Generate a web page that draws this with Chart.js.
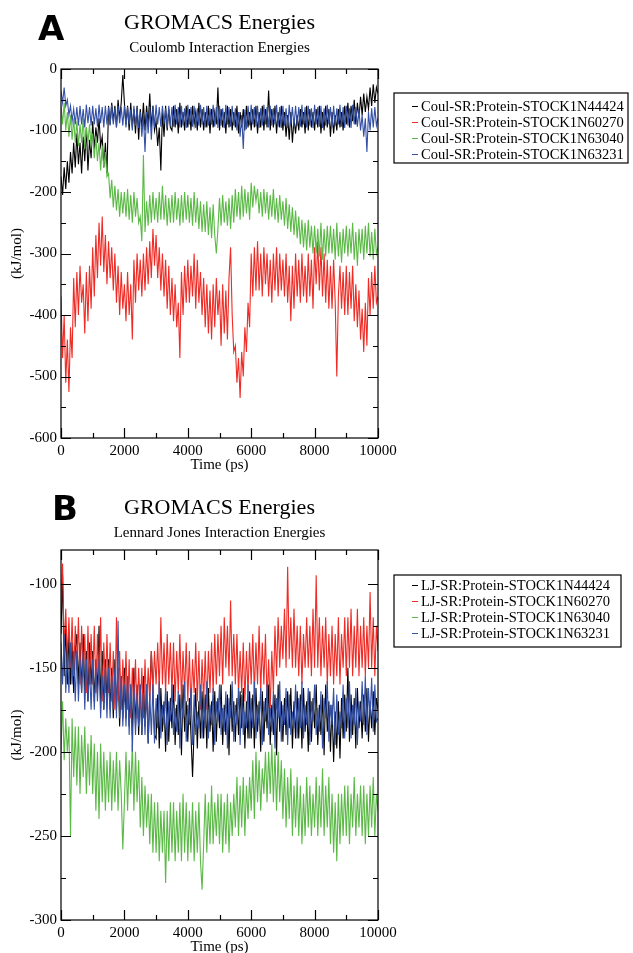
<!DOCTYPE html>
<html>
<head>
<meta charset="utf-8">
<script src="https://cdn.jsdelivr.net/npm/chart.js@4.4.1/dist/chart.umd.min.js"></script>
<style>
  html, body { margin: 0; padding: 0; background: #fff; overflow: hidden; }
  .panel { position: absolute; left: 0; width: 633px; height: 476px; }
</style>
</head>
<body>
<div class="panel" style="top:0"><canvas id="coulChart" width="633" height="476"></canvas></div>
<div class="panel" style="top:482px"><canvas id="ljChart" width="633" height="476"></canvas></div>
<script>
// sampled every 50 ps, 0..10000 ps
const STEP_PS = 50;

const seriesColors = ['#000000', '#ee2b24', '#5bb946', '#3451a6'];

const coulLabels = [
  'Coul-SR:Protein-STOCK1N44424',
  'Coul-SR:Protein-STOCK1N60270',
  'Coul-SR:Protein-STOCK1N63040',
  'Coul-SR:Protein-STOCK1N63231'
];
const ljLabels = [
  'LJ-SR:Protein-STOCK1N44424',
  'LJ-SR:Protein-STOCK1N60270',
  'LJ-SR:Protein-STOCK1N63040',
  'LJ-SR:Protein-STOCK1N63231'
];

const coul44424 = [
  -175,-205,-160,-195,-150,-185,-135,-170,-120,-160,
  -105,-155,-120,-170,-110,-150,-95,-165,-115,-145,
  -85,-130,-95,-120,-80,-125,-110,-160,-120,-170,
  -60,-90,-55,-85,-60,-95,-50,-80,-55,-10,
  -55,-90,-60,-100,-55,-95,-65,-105,-60,-115,
  -65,-95,-55,-100,-60,-90,-40,-95,-60,-100,
  -85,-125,-95,-165,-70,-110,-60,-100,-65,-95,
  -100,-60,-95,-65,-105,-55,-95,-70,-100,-60,
  -95,-65,-100,-60,-90,-70,-100,-55,-95,-65,
  -100,-70,-95,-60,-105,-65,-95,-70,-90,-30,
  -100,-65,-95,-70,-105,-60,-95,-65,-100,-70,
  -95,-60,-105,-70,-95,-65,-100,-60,-95,-70,
  -100,-65,-95,-60,-105,-70,-95,-60,-100,-65,
  -95,-35,-100,-65,-95,-60,-105,-70,-95,-60,
  -100,-70,-110,-75,-115,-70,-120,-80,-105,-75,
  -100,-65,-95,-70,-105,-60,-100,-65,-95,-70,
  -100,-65,-95,-60,-105,-70,-100,-60,-95,-65,
  -110,-70,-105,-75,-100,-65,-95,-70,-100,-60,
  -90,-55,-95,-60,-85,-50,-90,-55,-80,-45,
  -75,-40,-70,-45,-65,-30,-60,-25,-55,-30,
  -40
];
const coul60270 = [
  -370,-470,-400,-510,-440,-525,-420,-470,-340,-420,
  -330,-400,-320,-380,-350,-430,-330,-410,-320,-390,
  -290,-370,-270,-340,-250,-320,-240,-330,-270,-350,
  -280,-340,-290,-360,-300,-380,-320,-400,-330,-390,
  -350,-410,-330,-400,-350,-440,-310,-380,-300,-360,
  -310,-370,-300,-360,-290,-350,-280,-340,-260,-320,
  -270,-340,-290,-360,-300,-370,-310,-390,-320,-400,
  -340,-410,-350,-420,-380,-470,-330,-400,-320,-380,
  -310,-380,-320,-370,-300,-390,-310,-380,-330,-400,
  -340,-420,-350,-430,-360,-440,-350,-420,-340,-400,
  -360,-450,-350,-430,-360,-440,-340,-290,-400,-460,
  -450,-510,-470,-535,-460,-500,-420,-460,-380,-420,
  -300,-370,-290,-360,-280,-360,-300,-370,-290,-350,
  -300,-370,-310,-380,-300,-360,-290,-370,-300,-360,
  -310,-370,-300,-380,-320,-410,-320,-390,-300,-370,
  -310,-380,-300,-370,-320,-380,-300,-370,-310,-390,
  -290,-350,-280,-360,-290,-370,-300,-380,-310,-390,
  -320,-390,-310,-380,-500,-370,-320,-390,-330,-400,
  -320,-400,-330,-390,-320,-410,-350,-420,-360,-440,
  -390,-460,-380,-450,-340,-400,-330,-390,-320,-380,
  -370
];
const coul63040 = [
  -60,-90,-55,-100,-70,-110,-75,-115,-80,-120,
  -85,-125,-90,-120,-80,-130,-95,-120,-90,-125,
  -105,-145,-110,-150,-120,-165,-125,-160,-135,-175,
  -170,-210,-180,-225,-190,-230,-195,-240,-200,-235,
  -200,-240,-195,-245,-205,-250,-200,-240,-210,-250,
  -240,-280,-140,-265,-215,-255,-205,-250,-200,-245,
  -210,-250,-200,-245,-190,-245,-205,-255,-210,-250,
  -205,-250,-200,-245,-210,-255,-205,-250,-200,-245,
  -205,-250,-210,-255,-200,-250,-210,-260,-215,-265,
  -220,-265,-215,-270,-225,-275,-220,-270,-300,-260,
  -210,-255,-205,-250,-215,-255,-210,-260,-205,-250,
  -195,-240,-200,-245,-190,-240,-195,-235,-200,-245,
  -185,-225,-190,-215,-195,-235,-200,-240,-195,-235,
  -200,-245,-205,-240,-195,-245,-210,-250,-205,-245,
  -215,-255,-210,-260,-220,-265,-225,-270,-230,-275,
  -240,-285,-245,-290,-250,-295,-245,-290,-255,-300,
  -255,-300,-260,-305,-250,-310,-260,-305,-255,-300,
  -255,-300,-260,-310,-250,-305,-265,-315,-260,-300,
  -255,-305,-260,-300,-250,-310,-265,-320,-260,-300,
  -260,-310,-255,-300,-250,-305,-265,-310,-260,-300,
  -290
];
const coul63231 = [
  -35,-55,-30,-60,-50,-75,-60,-85,-65,-90,
  -62,-92,-60,-90,-65,-95,-58,-88,-62,-92,
  -60,-90,-64,-94,-58,-88,-62,-95,-60,-90,
  -62,-92,-58,-90,-64,-94,-60,-88,-62,-92,
  -60,-95,-62,-90,-66,-100,-60,-92,-64,-96,
  -70,-110,-75,-135,-70,-105,-62,-115,-60,-95,
  -58,-90,-62,-94,-60,-88,-64,-96,-60,-92,
  -62,-94,-58,-90,-62,-95,-60,-92,-64,-96,
  -58,-90,-62,-94,-60,-96,-64,-92,-58,-90,
  -62,-95,-60,-92,-64,-90,-58,-94,-62,-96,
  -60,-92,-64,-96,-58,-90,-62,-94,-60,-92,
  -64,-100,-70,-110,-75,-130,-66,-98,-60,-92,
  -58,-90,-62,-94,-60,-96,-64,-92,-58,-90,
  -62,-95,-60,-92,-64,-90,-58,-94,-62,-96,
  -60,-92,-64,-96,-58,-90,-62,-94,-60,-92,
  -62,-94,-58,-90,-62,-95,-60,-92,-64,-96,
  -58,-90,-62,-94,-60,-96,-64,-92,-58,-90,
  -62,-95,-60,-92,-64,-90,-58,-94,-62,-96,
  -60,-92,-64,-96,-58,-90,-62,-94,-66,-100,
  -75,-110,-80,-135,-70,-100,-64,-95,-62,-92,
  -80
];

const lj44424 = [
  -130,-95,-155,-125,-160,-130,-160,-135,-165,-140,
  -130,-160,-135,-165,-130,-165,-140,-170,-135,-160,
  -140,-170,-145,-165,-125,-170,-140,-175,-145,-170,
  -145,-175,-150,-180,-145,-175,-150,-185,-155,-180,
  -150,-180,-155,-185,-160,-190,-150,-185,-160,-190,
  -160,-190,-155,-185,-160,-195,-165,-140,-165,-190,
  -192,-166,-198,-162,-188,-170,-200,-164,-194,-168,
  -186,-160,-196,-172,-190,-166,-202,-160,-188,-170,
  -194,-168,-190,-215,-186,-162,-198,-170,-192,-164,
  -192,-166,-198,-162,-188,-170,-200,-164,-194,-168,
  -186,-160,-196,-172,-190,-166,-202,-160,-188,-170,
  -194,-168,-190,-164,-186,-162,-198,-170,-192,-164,
  -192,-166,-198,-162,-188,-170,-200,-164,-194,-168,
  -186,-160,-196,-172,-190,-166,-202,-160,-188,-170,
  -194,-168,-190,-164,-186,-162,-198,-170,-192,-164,
  -192,-166,-198,-162,-188,-170,-200,-164,-194,-168,
  -186,-160,-196,-172,-190,-166,-202,-160,-188,-170,
  -200,-172,-206,-176,-198,-170,-204,-168,-192,-166,
  -188,-150,-194,-166,-190,-168,-198,-162,-186,-170,
  -192,-166,-188,-162,-194,-170,-186,-164,-190,-168,
  -175
];
const lj60270 = [
  -110,-88,-140,-115,-145,-120,-150,-120,-155,-125,
  -150,-120,-160,-125,-155,-130,-165,-125,-160,-130,
  -160,-125,-165,-130,-160,-120,-170,-135,-165,-130,
  -165,-135,-170,-140,-175,-120,-170,-140,-175,-145,
  -170,-140,-175,-145,-180,-150,-175,-145,-180,-150,
  -175,-150,-180,-145,-175,-150,-170,-140,-165,-140,
  -160,-135,-165,-120,-160,-135,-165,-130,-160,-135,
  -165,-135,-170,-140,-165,-130,-170,-140,-165,-135,
  -170,-140,-175,-145,-165,-135,-170,-140,-175,-145,
  -170,-140,-175,-140,-165,-135,-165,-130,-160,-130,
  -155,-125,-160,-120,-150,-125,-155,-110,-155,-130,
  -160,-130,-165,-140,-165,-135,-170,-140,-165,-135,
  -160,-130,-165,-135,-160,-125,-165,-135,-160,-130,
  -170,-145,-175,-140,-165,-125,-155,-120,-150,-125,
  -145,-115,-150,-90,-145,-120,-150,-115,-150,-125,
  -155,-125,-160,-130,-150,-120,-150,-125,-155,-115,
  -150,-95,-150,-120,-155,-125,-150,-120,-160,-130,
  -155,-125,-160,-130,-155,-120,-160,-130,-150,-120,
  -155,-120,-150,-115,-155,-125,-150,-115,-155,-125,
  -150,-120,-155,-125,-150,-105,-150,-120,-155,-125,
  -140
];
const lj63040 = [
  -200,-170,-205,-180,-200,-185,-250,-180,-215,-185,
  -220,-185,-225,-190,-215,-185,-225,-195,-220,-190,
  -225,-195,-235,-200,-240,-195,-230,-200,-235,-205,
  -230,-200,-235,-205,-230,-200,-235,-205,-225,-258,
  -230,-200,-235,-205,-225,-195,-235,-200,-230,-205,
  -245,-215,-250,-220,-245,-225,-255,-225,-260,-230,
  -260,-230,-265,-235,-260,-235,-278,-235,-265,-230,
  -260,-230,-265,-235,-260,-230,-265,-225,-260,-230,
  -265,-235,-260,-230,-265,-235,-260,-230,-265,-282,
  -255,-225,-260,-230,-255,-220,-255,-230,-250,-225,
  -255,-225,-260,-230,-255,-225,-260,-230,-250,-225,
  -245,-215,-250,-220,-245,-215,-250,-220,-240,-215,
  -235,-205,-240,-200,-230,-205,-235,-210,-225,-200,
  -230,-200,-225,-195,-230,-200,-235,-200,-230,-205,
  -240,-210,-245,-215,-240,-210,-250,-220,-245,-215,
  -250,-220,-255,-225,-250,-215,-245,-220,-250,-225,
  -245,-215,-250,-220,-245,-210,-250,-220,-245,-215,
  -255,-225,-260,-230,-265,-225,-255,-225,-250,-220,
  -250,-220,-255,-225,-245,-215,-250,-225,-245,-220,
  -250,-220,-255,-225,-250,-220,-245,-215,-250,-225,
  -235
];
const lj63231 = [
  -135,-160,-130,-165,-140,-165,-135,-160,-140,-170,
  -140,-170,-145,-165,-140,-175,-145,-170,-150,-175,
  -145,-175,-150,-170,-145,-180,-155,-175,-150,-180,
  -150,-180,-155,-175,-150,-180,-122,-180,-155,-185,
  -160,-185,-155,-190,-160,-200,-160,-190,-165,-185,
  -160,-190,-165,-190,-160,-195,-165,-190,-160,-195,
  -168,-186,-158,-192,-172,-184,-162,-196,-170,-182,
  -160,-190,-174,-188,-164,-198,-168,-180,-158,-194,
  -172,-184,-162,-196,-166,-190,-176,-186,-160,-192,
  -168,-186,-158,-192,-172,-184,-162,-196,-170,-182,
  -160,-190,-174,-188,-164,-198,-168,-180,-158,-194,
  -172,-184,-162,-196,-166,-190,-176,-186,-160,-192,
  -168,-186,-158,-192,-172,-184,-162,-196,-170,-182,
  -160,-190,-174,-188,-164,-198,-168,-180,-158,-194,
  -172,-184,-162,-196,-166,-190,-176,-186,-160,-192,
  -168,-186,-158,-192,-172,-184,-162,-196,-170,-182,
  -160,-190,-174,-188,-164,-198,-168,-180,-158,-194,
  -172,-184,-162,-196,-166,-190,-176,-186,-160,-192,
  -168,-186,-158,-192,-172,-184,-162,-196,-170,-182,
  -158,-184,-155,-190,-162,-180,-156,-188,-160,-182,
  -180
];

const SERIF = '"Liberation Serif", "Times New Roman", Times, serif';

const toPoints = (vals) => vals.map((v, i) => ({ x: i * STEP_PS, y: v }));

// Grace-like frame: box round the plot, inward ticks on all four sides,
// plus panel letter, titles and a boxed legend
const gracePlugin = {
  id: 'grace',
  afterDatasetsDraw(chart, args, opts) {
    const { ctx, chartArea: a, scales: { x, y } } = chart;
    ctx.save();
    ctx.strokeStyle = '#000';
    ctx.lineWidth = 1.2;
    ctx.strokeRect(a.left, a.top, a.right - a.left, a.bottom - a.top);

    ctx.beginPath();
    const xTick = (v, len) => {
      const px = Math.round(x.getPixelForValue(v)) + 0.5;
      ctx.moveTo(px, a.bottom); ctx.lineTo(px, a.bottom - len);
      ctx.moveTo(px, a.top); ctx.lineTo(px, a.top + len);
    };
    const yTick = (v, len) => {
      const py = Math.round(y.getPixelForValue(v)) + 0.5;
      ctx.moveTo(a.left, py); ctx.lineTo(a.left + len, py);
      ctx.moveTo(a.right, py); ctx.lineTo(a.right - len, py);
    };
    for (let v = x.min; v <= x.max; v += opts.xMinor) {
      xTick(v, v % opts.xMajor === 0 ? 10 : 5);
    }
    const yStart = Math.ceil(y.min / opts.yMinor) * opts.yMinor;
    for (let v = yStart; v <= y.max; v += opts.yMinor) {
      yTick(v, v % opts.yMajor === 0 ? 10 : 5);
    }
    ctx.stroke();
    ctx.restore();
  },
  afterDraw(chart, args, opts) {
    const { ctx, chartArea: a } = chart;
    const cx = (a.left + a.right) / 2;
    ctx.save();
    ctx.fillStyle = '#000';

    ctx.font = 'bold 34px "DejaVu Sans", sans-serif';
    ctx.textAlign = 'left';
    ctx.textBaseline = 'alphabetic';
    ctx.fillText(opts.letter, opts.letterX, opts.letterY);

    ctx.textAlign = 'center';
    ctx.textBaseline = 'middle';
    ctx.font = '22px ' + SERIF;
    ctx.fillText('GROMACS Energies', cx, opts.titleY);
    ctx.font = '15px ' + SERIF;
    ctx.fillText(opts.subtitle, cx, opts.subtitleY);

    // legend box
    const lg = opts.legend;
    ctx.strokeStyle = '#000';
    ctx.lineWidth = 1.2;
    ctx.strokeRect(lg.x, lg.y, lg.w, lg.h);
    ctx.textAlign = 'left';
    ctx.font = '14.5px ' + SERIF;
    chart.data.datasets.forEach((ds, i) => {
      const ry = lg.y + lg.first + i * lg.rowH;
      ctx.strokeStyle = ds.borderColor;
      ctx.lineWidth = 1;
      ctx.beginPath();
      ctx.moveTo(lg.x + 18, Math.round(ry) + 0.5);
      ctx.lineTo(lg.x + 24, Math.round(ry) + 0.5);
      ctx.stroke();
      ctx.fillText(ds.label, lg.x + 27, ry + 1);
    });
    ctx.restore();
  }
};

function makeChart(canvasId, labels, seriesList, yMin, yMax, yStep, yMinor, topPad, header) {
  const tickFont = { family: SERIF, size: 15 };
  return new Chart(document.getElementById(canvasId), {
    type: 'line',
    data: {
      datasets: seriesList.map((vals, i) => ({
        label: labels[i],
        data: toPoints(vals),
        borderColor: seriesColors[i],
        borderWidth: 1.1,
        pointRadius: 0,
        tension: 0,
        fill: false,
        // later series drawn on top, like xmgrace
        order: seriesList.length - i
      }))
    },
    options: {
      responsive: false,
      animation: false,
      events: [],
      layout: { padding: { left: 0, right: 255, top: topPad, bottom: 0 } },
      plugins: {
        legend: { display: false },
        tooltip: { enabled: false },
        grace: Object.assign({ xMajor: 2000, xMinor: 1000, yMajor: yStep, yMinor: yMinor }, header)
      },
      scales: {
        x: {
          type: 'linear',
          min: 0,
          max: 10000,
          afterFit: (s) => { s.height = 38; },
          grid: { display: false, drawTicks: false },
          border: { display: false },
          ticks: {
            stepSize: 2000, padding: 4, color: '#000', font: tickFont,
            maxRotation: 0, autoSkip: false, includeBounds: false,
            callback: (v) => String(v)
          },
          title: { display: true, text: 'Time (ps)', color: '#000', font: tickFont, padding: { top: 0, bottom: 2 } }
        },
        y: {
          min: yMin,
          max: yMax,
          afterFit: (s) => { s.width = 61; },
          grid: { display: false, drawTicks: false },
          border: { display: false },
          ticks: {
            stepSize: yStep, padding: 4, color: '#000', font: tickFont,
            includeBounds: false, callback: (v) => String(v)
          },
          title: { display: true, text: '(kJ/mol)', color: '#000', font: tickFont, padding: { top: 8, bottom: 0 } }
        }
      }
    },
    plugins: [gracePlugin]
  });
}

makeChart('coulChart', coulLabels, [coul44424, coul60270, coul63040, coul63231],
  -600, 0, 100, 50, 69, {
    letter: 'A', letterX: 38, letterY: 40,
    titleY: 23, subtitle: 'Coulomb Interaction Energies', subtitleY: 48,
    legend: { x: 394, y: 93, w: 234, h: 70, first: 13, rowH: 16 }
  });

makeChart('ljChart', ljLabels, [lj44424, lj60270, lj63040, lj63231],
  -300, -80, 50, 25, 68, {
    letter: 'B', letterX: 52, letterY: 38,
    titleY: 26, subtitle: 'Lennard Jones Interaction Energies', subtitleY: 51,
    legend: { x: 394, y: 93, w: 227, h: 72, first: 10, rowH: 16 }
  });
</script>
</body>
</html>
